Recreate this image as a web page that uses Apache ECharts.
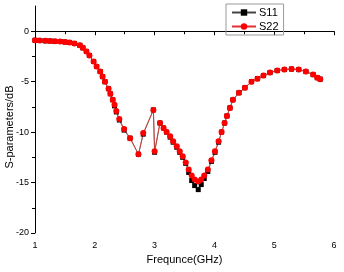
<!DOCTYPE html>
<html>
<head>
<meta charset="utf-8">
<script src="https://cdn.jsdelivr.net/npm/echarts@6/dist/echarts.min.js"></script>
<style>
  html, body { margin: 0; padding: 0; background: #fff; }
  #chart { width: 344px; height: 272px; }
</style>
</head>
<body>
<div id="chart"></div>
<script>
// dados
var freq = [1.00, 1.08, 1.17, 1.25, 1.33, 1.42, 1.50, 1.58, 1.66, 1.75, 1.80, 1.86, 1.91, 1.98, 2.03, 2.09, 2.13, 2.17, 2.23,
    2.26, 2.30, 2.33, 2.36, 2.41, 2.49, 2.59, 2.73, 2.81, 2.98, 3.00, 3.09, 3.15, 3.20, 3.26, 3.31, 3.37, 3.42, 3.47,
    3.52, 3.57, 3.62, 3.67, 3.73, 3.78, 3.83, 3.89, 3.95, 4.01, 4.07, 4.12, 4.17, 4.21, 4.26, 4.31, 4.41, 4.51, 4.62,
    4.72, 4.82, 4.93, 5.05, 5.17, 5.29, 5.41, 5.53, 5.65, 5.72, 5.77];
var s11 = [-0.9, -0.92, -0.95, -0.97, -1.0, -1.02, -1.07, -1.12, -1.22, -1.4, -1.65, -2.0, -2.4, -3.0, -3.5, -4.0, -4.5, -5.0, -5.7,
    -6.2, -6.8, -7.4, -8.0, -8.8, -9.8, -10.6, -12.2, -10.2, -7.8, -12.0, -9.1, -9.6, -10.0, -10.5, -11.0, -11.5, -12.0, -12.5,
    -13.1, -14.0, -14.8, -15.3, -15.7, -15.2, -14.6, -13.9, -12.9, -12.0, -11.0, -10.0, -9.1, -8.4, -7.6, -6.8, -6.1, -5.6, -5.0,
    -4.7, -4.4, -4.1, -3.9, -3.8, -3.75, -3.8, -4.0, -4.3, -4.6, -4.75];
var s22 = [-0.9, -0.92, -0.95, -0.97, -1.0, -1.02, -1.07, -1.12, -1.22, -1.4, -1.65, -2.0, -2.4, -3.0, -3.5, -4.0, -4.5, -5.0, -5.7,
    -6.2, -6.8, -7.3, -7.9, -8.7, -9.7, -10.6, -12.2, -10.1, -7.8, -11.9, -9.1, -9.6, -10.0, -10.4, -10.9, -11.4, -11.9, -12.4,
    -13.0, -13.7, -14.3, -14.7, -14.9, -14.7, -14.3, -13.7, -12.8, -11.9, -10.9, -10.0, -9.1, -8.4, -7.6, -6.8, -6.1, -5.6, -5.0,
    -4.7, -4.4, -4.1, -3.9, -3.8, -3.75, -3.8, -4.0, -4.3, -4.6, -4.75];
var yTicks = [-20, -15, -10, -5, 0];
var yMinorTicks = [-17.5, -12.5, -7.5, -2.5];

function pares(xs, ys) {
    return xs.map(function (x, i) { return [x, ys[i]]; });
}

var fonte = 'Liberation Sans, Arial, sans-serif';
var myChart = echarts.init(document.getElementById('chart'), null, { renderer: 'canvas' });

var option = {
    animation: false,
    grid: { left: 35, right: 10, top: 6, bottom: 39, containLabel: false, outerBoundsMode: 'none' },
    legend: {
        orient: 'vertical',
        left: 226,
        top: 4,
        width: 56,
        padding: [3, 5, 3, 5],
        itemGap: 3,
        itemWidth: 24,
        itemHeight: 8,
        borderColor: '#999',
        borderWidth: 1,
        textStyle: { fontFamily: fonte, fontSize: 11, color: '#000', padding: [0, 0, 0, -2] },
        data: ['S11', 'S22']
    },
    xAxis: {
        type: 'value',
        min: 1,
        max: 6,
        interval: 1,
        name: 'Frequnce(GHz)',
        nameLocation: 'middle',
        nameGap: 21,
        nameMoveOverlap: false,
        nameTextStyle: { fontFamily: fonte, fontSize: 11, color: '#000' },
        axisLine: { lineStyle: { color: '#000', width: 1 } },
        axisTick: { show: true, inside: false, length: 4, lineStyle: { color: '#000' } },
        minorTick: { show: true, splitNumber: 2, length: 3, lineStyle: { color: '#000' } },
        axisLabel: { fontFamily: fonte, fontSize: 9, color: '#000', margin: 8 },
        splitLine: { show: false }
    },
    yAxis: [
        {
            type: 'value',
            min: -20,
            max: 2.5,
            name: 'S-parameters/dB',
            nameLocation: 'middle',
            nameGap: 20,
            nameMoveOverlap: false,
            nameTextStyle: { fontFamily: fonte, fontSize: 11, color: '#000', padding: [0, 15, 0, 0] },
            axisLine: { show: true, lineStyle: { color: '#000', width: 1 } },
            axisTick: { show: true, length: 4, customValues: yTicks, lineStyle: { color: '#000' } },
            axisLabel: { fontFamily: fonte, fontSize: 9, color: '#000', margin: 6, customValues: yTicks },
            splitLine: { show: false }
        },
        {
            type: 'value',
            min: -20,
            max: 2.5,
            position: 'left',
            axisLine: { show: false },
            axisTick: { show: true, length: 3, customValues: yMinorTicks, lineStyle: { color: '#000' } },
            axisLabel: { show: false },
            splitLine: { show: false }
        }
    ],
    series: [
        {
            name: 'S11',
            type: 'line',
            data: pares(freq, s11),
            symbol: 'rect',
            symbolSize: 5,
            itemStyle: { color: '#000' },
            lineStyle: { color: '#444', width: 0.8 }
        },
        {
            name: 'S22',
            type: 'line',
            data: pares(freq, s22),
            symbol: 'circle',
            symbolSize: 6,
            itemStyle: { color: '#ff0000' },
            lineStyle: { color: '#e03030', width: 0.8 }
        }
    ]
};

myChart.setOption(option);
</script>
</body>
</html>
